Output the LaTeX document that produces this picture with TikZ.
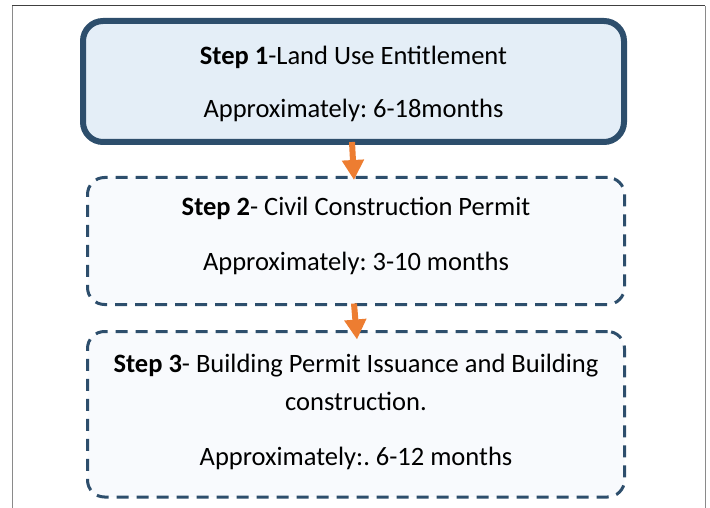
\documentclass[tikz,border=0pt]{standalone}
\usepackage{fontspec}
\setmainfont{Carlito}
\usetikzlibrary{arrows.meta}
\definecolor{boxline}{HTML}{2D4E6C}
\definecolor{boxonefill}{HTML}{E4EEF7}
\definecolor{boxfill}{HTML}{F8FAFD}
\definecolor{arroworange}{HTML}{ED7D31}
\definecolor{frameleft}{HTML}{8A8A8A}
\definecolor{frametop}{HTML}{404040}
\frenchspacing
\tikzset{
  solidbox/.style={draw=boxline, line width=6pt, fill=boxonefill, rounded corners=20pt, inner sep=0pt},
  dashbox/.style={draw=boxline, line width=3pt, fill=boxfill, rounded corners=17pt, inner sep=0pt, dash pattern=on 12pt off 8pt},
  boxtext/.style={align=center, font=\fontsize{26.5}{38}\selectfont, inner sep=0pt},
  flowarrow/.style={draw=arroworange, line width=6pt, -{Triangle[width=21pt 0 0,length=20pt 0 0]}, arroworange}
}
\begin{document}
\begin{tikzpicture}[x=1pt,y=-1pt]
\useasboundingbox (0,0) rectangle (710,508);
% frame
\draw[frametop, line width=1pt] (12,6) -- (705,6);
\draw[frameleft, line width=1pt] (12,6) -- (12,508);
\draw[frameleft, line width=1pt] (705,6) -- (705,508);
% boxes
\node[solidbox, minimum width=541pt, minimum height=121pt] (b1) at (353.5,81.5) {};
\node[dashbox, minimum width=537pt, minimum height=127pt] (b2) at (356,241) {};
\node[dashbox, minimum width=537pt, minimum height=165.5pt] (b3) at (356,414.25) {};
% texts
\node[boxtext] (t1) at (353.5,84) {\textbf{Step 1}-Land Use Entitlement\\[15pt]Approximately: 6-18months};
\node[boxtext] (t2) at (356,236) {\textbf{Step 2}- Civil Construction Permit\\[17pt]Approximately: 3-10 months};
\node[boxtext] (t3) at (356,412) {\textbf{Step 3}- Building Permit Issuance and Building\\construction.\\[17pt]Approximately:. 6-12 months};
% arrows
\draw[flowarrow] ([xshift=-1.5pt,yshift=3pt]b1.south) -- ([xshift=-2pt,yshift=-4pt]b2.north);
\draw[flowarrow] ([xshift=-2pt,yshift=2.5pt]b2.south) -- ([xshift=1pt,yshift=-9.5pt]b3.north);
\end{tikzpicture}
\end{document}
